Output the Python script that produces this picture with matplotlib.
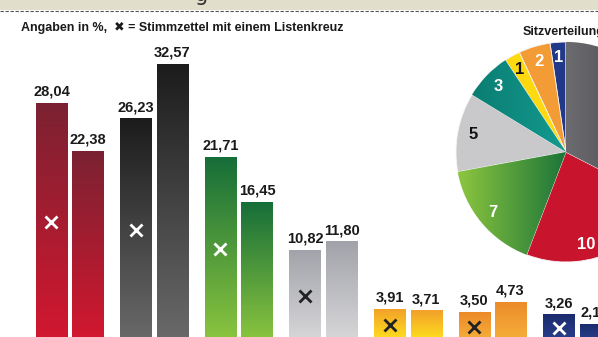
import numpy as np
import matplotlib.pyplot as plt
from matplotlib.colors import LinearSegmentedColormap
from matplotlib.patches import Rectangle
from matplotlib.lines import Line2D

# Angaben in %: first bar of each pair = Stimmzettel mit einem Listenkreuz
kreuz_vals = [28.04, 26.23, 21.71, 10.82, 3.91, 3.50, 3.26]
other_vals = [22.38, 32.57, 16.45, 11.80, 3.71, 4.73, 2.14]

bar_top = ['#7a2232', '#1c1c1c', '#156d38', '#a2a3aa', '#f2a02a', '#ec8a2a', '#1b2a6c']
bar_bottom = ['#d3172f', '#6a6a6a', '#8cc63f', '#d8d8da', '#ffe41c', '#f7b23a', '#2b428f']
cross_cols = ['white', 'white', 'white', '#222222', '#222222', '#222222', 'white']

# Sitzverteilung, counter-clockwise from the top (last slice has no visible label)
seats = [1, 2, 1, 3, 5, 7, 10, 14]
seat_labels = ['1', '2', '1', '3', '5', '7', '10', '']
seat_cols = ['#22398a', '#f39b34', '#ffd90f', '#0d8780', '#c9c9cc', '#4ea03c', '#c8142d', '#555558']
seat_text = ['white', 'white', '#111111', 'white', '#111111', 'white', 'white', 'white']

W, H = 598, 337
FONT = dict(family=['Liberation Sans', 'DejaVu Sans'], fontweight='bold')

fig = plt.figure(figsize=(W / 100, H / 100), dpi=100)
fig.patch.set_facecolor('white')

# beige header strip with dashed rule
fig.add_artist(Rectangle((0, 1 - 10 / H), 1, 10 / H, transform=fig.transFigure,
                         facecolor='#e1decb', edgecolor='none'))
fig.add_artist(Line2D([0, 1], [1 - 11 / H] * 2, transform=fig.transFigure,
                      color='#555555', lw=0.8, ls=(0, (3, 1.5))))
fig.text(195 / W, 1 - 1 / H, 'g', fontsize=15, color='#333333', va='baseline', family='DejaVu Sans')

fig.text(21 / W, 1 - 31 / H, 'Angaben in %,  \u2716 = Stimmzettel mit einem Listenkreuz',
         fontsize=9, color='#1a1a1a', va='baseline', **FONT)
fig.text(523 / W, 1 - 35 / H, 'Sitzverteilung', fontsize=9, color='#1a1a1a', va='baseline', **FONT)


def fill_gradient(ax, patch, c_top, c_bottom):
    cmap = LinearSegmentedColormap.from_list('g', [c_bottom, c_top])
    x0, w, h = patch.get_x(), patch.get_width(), patch.get_height()
    img = ax.imshow(np.linspace(0, 1, 256).reshape(-1, 1), cmap=cmap, origin='lower',
                    extent=(x0, x0 + w, 0, h), aspect='auto', interpolation='bilinear', zorder=2)
    img.set_clip_path(patch)
    patch.set_facecolor('none')


# bar chart
ax = fig.add_axes([0, 0, 1, 1])
ax.axis('off')
groups = np.arange(len(kreuz_vals))
off, bw = 0.216, 0.367
for i in groups:
    for x, v in ((i - off, kreuz_vals[i]), (i + off, other_vals[i])):
        bar = ax.bar(x, v, width=bw, color='none', edgecolor='none', zorder=2)[0]
        fill_gradient(ax, bar, bar_top[i], bar_bottom[i])
        ax.annotate(f'{v:.2f}'.replace('.', ','), (x, v), xytext=(0, 3), textcoords='offset points',
                    ha='center', va='bottom', fontsize=10.5, color='#1a1a1a', **FONT)
    ax.plot(i - off, kreuz_vals[i] / 2, marker='x', ms=8, mew=2, color=cross_cols[i], zorder=3)
ax.set_xlim(-0.825, 6.251)
ax.set_ylim(0.586, 40.09)

# pie chart
pax = fig.add_axes([(566 - 110) / W, (H - 152 - 110) / H, 220 / W, 220 / H])
wedges, texts = pax.pie(seats, labels=seat_labels, colors=seat_cols, startangle=90,
                        counterclock=True, labeldistance=0.86,
                        wedgeprops=dict(edgecolor='#f4f4f4', linewidth=0.6),
                        textprops=dict(fontsize=12, ha='center', va='center', **FONT))
for t, c in zip(texts, seat_text):
    t.set_color(c)
    t.set_zorder(3)

# the "10" sits in the visible part of the red slice
red = wedges[6]
ang = np.deg2rad(red.theta1 + 0.4 * (red.theta2 - red.theta1))
texts[6].set_position((0.86 * np.cos(ang), 0.86 * np.sin(ang)))

# horizontal shading on some slices
for k, (c_left, c_right) in {5: ('#8dc63f', '#1a7439'), 7: ('#6c6c70', '#3e3e40'),
                             3: ('#0b7d72', '#139a8f')}.items():
    wdg = wedges[k]
    bb = wdg.get_path().get_extents()
    cmap = LinearSegmentedColormap.from_list('p', [c_left, c_right])
    img = pax.imshow(np.linspace(0, 1, 256).reshape(1, -1), cmap=cmap,
                     extent=(bb.x0, bb.x1, bb.y0, bb.y1), aspect='auto', zorder=1.5)
    img.set_clip_path(wdg)
pax.set_xlim(-1, 1)
pax.set_ylim(-1, 1)
pax.axis('off')

fig.savefig('out.png', dpi=100)
